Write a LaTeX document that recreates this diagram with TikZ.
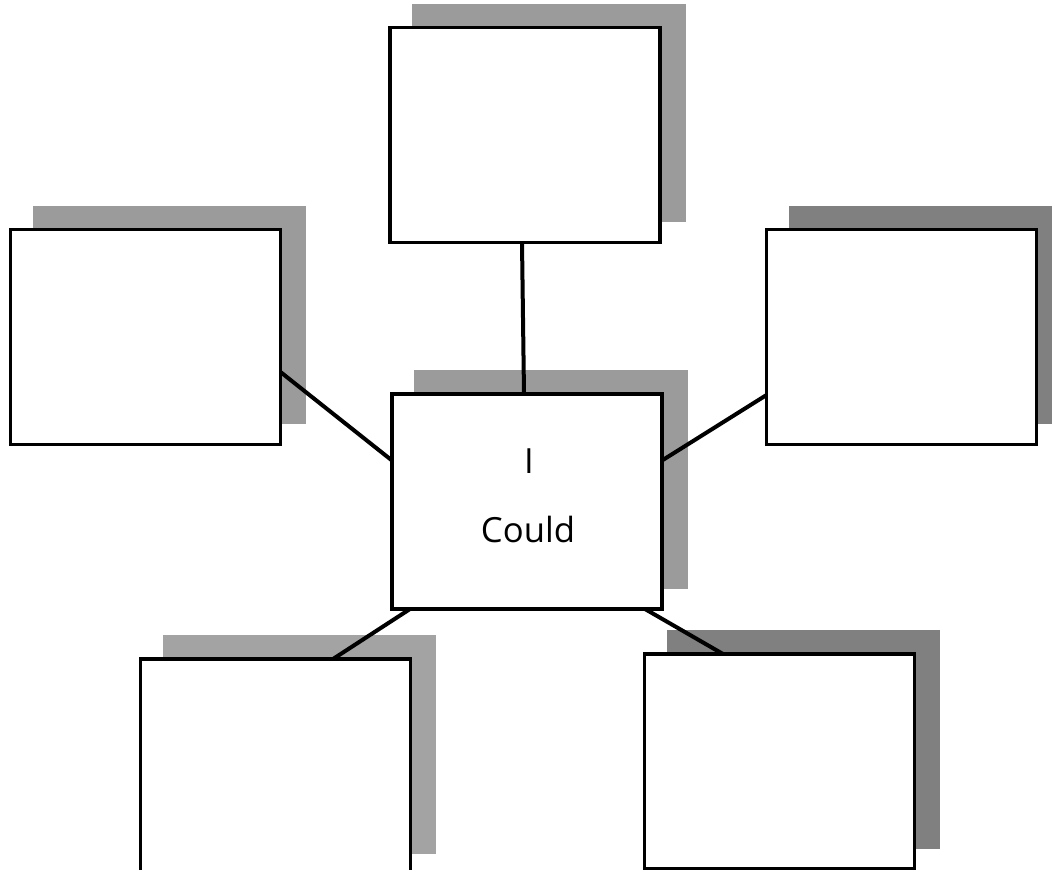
\documentclass[tikz,border=0pt]{standalone}
\usepackage{fontspec}
\setmainfont{Open Sans}
\usetikzlibrary{shadows,calc}
\definecolor{shadeLight}{RGB}{155,155,155}
\definecolor{shadePale}{RGB}{163,163,163}
\definecolor{shadeDark}{RGB}{128,128,128}
\tikzset{
  card/.style={draw=black, fill=white, line width=2.5pt, inner sep=0pt, outer sep=0pt,
    minimum width=202.5pt, minimum height=161.25pt, rectangle},
  backing/.style={general shadow={fill=#1, draw=#1, line width=2.5pt,
    shadow xshift=18pt, shadow yshift=16.5pt}},
  link/.style={draw=black, line width=3pt},
  word/.style={anchor=base, font=\fontsize{26}{30}\selectfont, inner sep=0pt}
}
\begin{document}
\begin{tikzpicture}[x=0.75pt, y=-0.75pt]
  \useasboundingbox (0,0) rectangle (1052,869);
  \clip (0,0) rectangle (1052,869);
  \fill[white] (0,0) rectangle (1052,869);

  % boxes with offset backing shadows
  \node[card, backing=shadeLight] (top) at (525,135) {};
  \node[card, backing=shadeLight] (lft) at (145.5,337) {};
  \node[card, backing=shadeDark]  (rgt) at (901.5,337) {};
  \node[card, backing=shadeLight] (mid) at (527,501.5) {};
  \node[card, backing=shadePale]  (bl)  at (275.5,766.5) {};
  \node[card, backing=shadeDark]  (br)  at (779.5,761.5) {};

  % centre caption
  \node[word] (w1) at (529,473) {I};
  \node[word] (w2) at (528,542) {Could};

  % spokes from the centre box
  \draw[link] ($(top.south)+(-3,0)$) -- ($(mid.north)+(-3,0)$);
  \draw[link] ($(lft.east)+(0,35)$) -- ($(mid.west)+(0,-41)$);
  \draw[link] ($(mid.east)+(0,-41)$) -- ($(rgt.west)+(0,58)$);
  \draw[link] ($(mid.south)+(-117,0)$) -- ($(bl.north)+(57.5,0)$);
  \draw[link] ($(mid.south)+(118,0)$) -- ($(br.north)+(-56.5,0)$);
\end{tikzpicture}
\end{document}
